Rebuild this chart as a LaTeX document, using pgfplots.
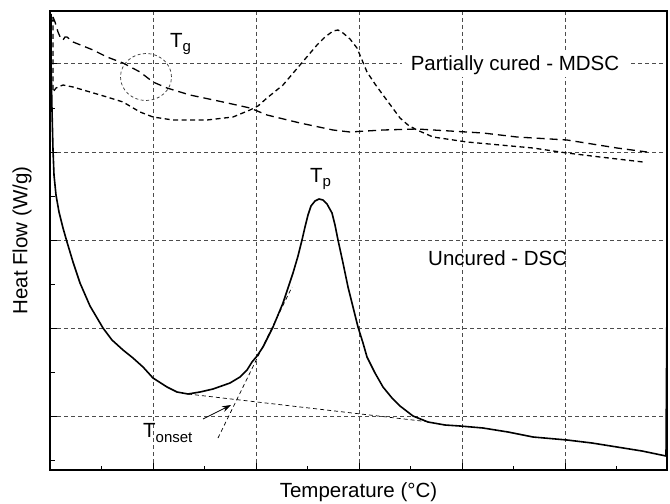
\documentclass[border=0pt]{standalone}
\usepackage{fontspec}
\setmainfont{Liberation Sans}
\usepackage{pgfplots}
\pgfplotsset{compat=1.18}
\usetikzlibrary{arrows.meta}
\newcommand\sub[2][-4bp]{\raisebox{#1}{\fontsize{15bp}{15bp}\selectfont #2}}

\begin{document}
\begin{tikzpicture}[font=\fontsize{20.5bp}{24bp}\selectfont]
\useasboundingbox (0,0) rectangle (670bp,504bp);
\begin{axis}[
  at={(50bp,34bp)}, anchor=south west,
  scale only axis, width=617bp, height=459bp,
  xmin=50, xmax=667, ymin=11, ymax=470, y dir=reverse,
  xtick={153,256,359,462,565}, minor xtick={101,204,307,410,513,616},
  ytick={63,152,240,328,416}, minor ytick={20,108,196,284,372,460},
  xticklabels={}, yticklabels={},
  xtick pos=lower, ytick pos=left, tick align=inside,
  major tick length=7bp, minor tick length=4.5bp,
  every tick/.style={black, line width=0.9bp},
  grid=major,
  major grid style={black!70, line width=0.8bp, dash pattern=on 4bp off 3bp},
  axis line style={line width=1.2bp},
  clip=false,
  xlabel={Temperature (°C)}, ylabel={Heat Flow (W/g)},
  xlabel style={at={(axis description cs:0.5,-0.048)}, anchor=center},
  ylabel style={at={(axis description cs:-0.0454,0.5)}, anchor=center},
]
% Uncured - DSC (solid)
\addplot[black, line width=1.6bp, line join=round] coordinates {
(51,14) (51,60) (52,110) (53,150) (54,175) (56,195) (59,212) (63,228) (67,242)
(73,262) (80,283) (90,306) (103,328) (112,340) (123,350) (133,358) (143,367)
(153,378) (167,387) (177,392) (188,394) (200,392) (213,389) (230,383) (240,377)
(247,370) (252,362) (257,356) (263,347) (268,337) (273,327) (278,315) (283,303)
(288,288) (293,273) (298,256) (302,240) (305,227) (308,215) (311,206) (315,201)
(319,199) (323,200) (327,204) (332,213) (335,225) (338,240) (343,263) (348,287)
(353,307) (358,327) (363,343) (367,357) (375,373) (383,387) (392,398) (400,406)
(413,416) (428,422) (445,425) (460,426) (483,428) (508,432) (533,437) (567,440)
(592,443) (617,447) (642,451) (666,456) (667,293)
};
% Partially cured - MDSC, upper trace (long dashes)
\addplot[black, line width=1.3bp, dash pattern=on 8bp off 5bp] coordinates {
(53,17) (55,22) (58,32) (61,39) (63,40) (65,37) (67,37) (73,42) (93,50) (107,57)
(123,63) (140,72) (153,82) (167,88) (190,95) (223,102) (250,108) (267,115)
(300,123) (333,130) (350,132) (383,130) (417,129) (450,131) (483,133) (517,137)
(567,140) (617,148) (647,152)
};
% Partially cured - MDSC, lower trace (short dashes)
\addplot[black, line width=1.3bp, dash pattern=on 5bp off 3.5bp] coordinates {
(53,17) (53,50) (53,92) (56,88) (63,85) (73,87) (90,92) (107,97) (123,102)
(140,112) (153,117) (173,120) (207,120) (233,117) (250,110) (258,106) (267,98)
(283,85) (300,65) (317,45) (325,37) (333,31) (338,30) (343,33) (350,39) (357,48)
(367,72) (375,84) (383,95) (400,118) (408,125) (417,130) (433,137) (467,142)
(500,145) (533,148) (567,153) (600,157) (643,162)
};
% Onset construction
\addplot[black, line width=0.7bp, dash pattern=on 4bp off 3bp] coordinates {(188,394) (430,422)};
\addplot[black, line width=0.7bp, dash pattern=on 4bp off 3bp] coordinates {(218,438) (292,287)};
\addplot[black, line width=0.8bp, -{Stealth[length=9bp,width=6bp]}] coordinates {(203,419) (231,405)};
\draw[black!80, line width=0.7bp, dash pattern=on 3bp off 2.5bp] (axis cs:146,77) ellipse [x radius=25.5bp, y radius=23.5bp];
\node[fill=white, inner xsep=9bp, inner ysep=2bp] at (axis cs:515,65) {Partially cured - MDSC};
\node[anchor=base west, inner sep=0pt] at (axis cs:428,265) {Uncured - DSC};
\node[anchor=base west, inner sep=0pt] at (axis cs:310,182) {T\sub{p}};
\node[anchor=base west, inner sep=0pt] at (axis cs:170,47) {T\sub{g}};
\node[anchor=base west, inner sep=0pt] at (axis cs:143,437) {T\sub[-5bp]{onset}};
\end{axis}
\end{tikzpicture}
\end{document}
